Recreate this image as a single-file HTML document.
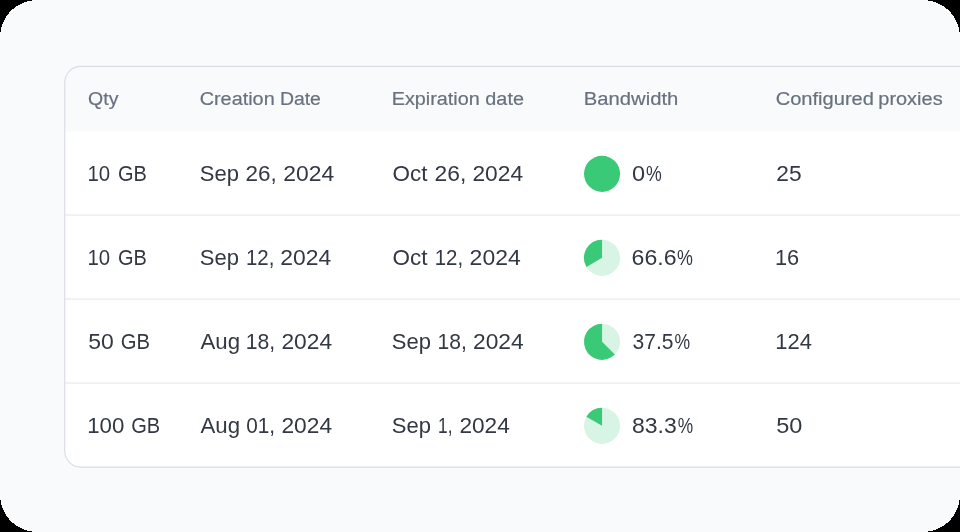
<!DOCTYPE html>
<html><head><meta charset="utf-8"><title>Table</title>
<style>
html,body{margin:0;padding:0;background:#000;}
body{width:960px;height:532px;position:relative;overflow:hidden;font-family:"Liberation Sans",sans-serif;}
svg.bg{position:absolute;left:0;top:0;display:block;}
.tx{position:absolute;left:0;top:0;width:960px;height:532px;will-change:transform;}
.t{position:absolute;left:0;top:0;white-space:nowrap;transform-origin:0 0;display:block;}
.h{font-size:17.6px;line-height:17.6px;color:#68727f;-webkit-text-stroke:0.2px #68727f;}
.b{font-size:21.6px;line-height:21.6px;color:#323944;-webkit-text-stroke:0.0px #323944;}
</style></head><body>
<svg class="bg" width="960" height="532" viewBox="0 0 960 532">
<defs><clipPath id="cc"><rect x="64.75" y="66.4" width="1000" height="400.68" rx="16" ry="16"/></clipPath></defs>
<rect x="0" y="0" width="960" height="532" rx="37" ry="37" fill="#f9fafb" shape-rendering="crispEdges"/>
<g clip-path="url(#cc)">
<rect x="64.75" y="66.4" width="1000" height="400.68" fill="#ffffff"/>
<rect x="64.75" y="66.4" width="1000" height="65.16" fill="#f9fafb"/>
<rect x="64.75" y="214.56" width="900" height="1" fill="#e1e4e8"/><rect x="64.75" y="298.56" width="900" height="1" fill="#e1e4e8"/><rect x="64.75" y="382.56" width="900" height="1" fill="#e1e4e8"/>
</g>
<rect x="64.75" y="66.4" width="1000" height="400.68" rx="16" ry="16" fill="none" stroke="#d9dde3" stroke-width="1.15"/>
<circle cx="602.05" cy="173.85" r="18.05" fill="#3ac977"/><circle cx="602.05" cy="257.85" r="18.05" fill="#d8f4e4"/><path d="M602.05 257.85 L586.418 266.875 A18.05 18.05 0 0 1 602.050 239.800 Z" fill="#3ac977"/><circle cx="602.05" cy="341.85" r="18.05" fill="#d8f4e4"/><path d="M602.05 341.85 L614.813 354.613 A18.05 18.05 0 1 1 602.050 323.800 Z" fill="#3ac977"/><circle cx="602.05" cy="425.85" r="18.05" fill="#d8f4e4"/><path d="M602.05 425.85 L586.418 416.825 A18.05 18.05 0 0 1 602.050 407.800 Z" fill="#3ac977"/>
</svg>
<div class="tx"><span class="t h" style="transform:translate(88.06px,91.00px) scaleX(1.1073)">Qty</span>
<span class="t h" style="transform:translate(199.67px,91.00px) scaleX(1.1279)">Creation</span>
<span class="t h" style="transform:translate(279.89px,91.00px) scaleX(1.1033)">Date</span>
<span class="t h" style="transform:translate(391.75px,91.00px) scaleX(1.1254)">Expiration</span>
<span class="t h" style="transform:translate(485.33px,91.00px) scaleX(1.1268)">date</span>
<span class="t h" style="transform:translate(583.81px,91.00px) scaleX(1.1500)">Bandwidth</span>
<span class="t h" style="transform:translate(775.64px,91.00px) scaleX(1.1420)">Configured</span>
<span class="t h" style="transform:translate(878.28px,91.00px) scaleX(1.1342)">proxies</span>
<span class="t b" style="transform:translate(87.52px,163.00px) scaleX(0.9445)">10</span>
<span class="t b" style="transform:translate(118.02px,163.00px) scaleX(0.9252)">GB</span>
<span class="t b" style="transform:translate(199.87px,163.00px) scaleX(1.0181)">Sep</span>
<span class="t b" style="transform:translate(245.61px,163.00px) scaleX(1.0392)">26,</span>
<span class="t b" style="transform:translate(283.33px,163.00px) scaleX(1.0599)">2024</span>
<span class="t b" style="transform:translate(392.47px,163.00px) scaleX(1.0405)">Oct</span>
<span class="t b" style="transform:translate(434.52px,163.00px) scaleX(1.0557)">26,</span>
<span class="t b" style="transform:translate(472.41px,163.00px) scaleX(1.0551)">2024</span>
<span class="t b" style="transform:translate(632.11px,163.00px) scaleX(1.0907)">0</span>
<span class="t b" style="transform:translate(646.10px,163.00px) scaleX(0.8207)">%</span>
<span class="t b" style="transform:translate(776.29px,163.00px) scaleX(1.0549)">25</span>
<span class="t b" style="transform:translate(87.52px,247.00px) scaleX(0.9445)">10</span>
<span class="t b" style="transform:translate(118.02px,247.00px) scaleX(0.9252)">GB</span>
<span class="t b" style="transform:translate(199.87px,247.00px) scaleX(1.0181)">Sep</span>
<span class="t b" style="transform:translate(245.99px,247.00px) scaleX(0.9475)">12,</span>
<span class="t b" style="transform:translate(280.33px,247.00px) scaleX(1.0599)">2024</span>
<span class="t b" style="transform:translate(392.47px,247.00px) scaleX(1.0405)">Oct</span>
<span class="t b" style="transform:translate(434.72px,247.00px) scaleX(0.9461)">12,</span>
<span class="t b" style="transform:translate(469.62px,247.00px) scaleX(1.0621)">2024</span>
<span class="t b" style="transform:translate(631.57px,247.00px) scaleX(1.0681)">66.6</span>
<span class="t b" style="transform:translate(676.93px,247.00px) scaleX(0.8284)">%</span>
<span class="t b" style="transform:translate(774.91px,247.00px) scaleX(1.0081)">16</span>
<span class="t b" style="transform:translate(88.19px,331.00px) scaleX(1.0628)">50</span>
<span class="t b" style="transform:translate(120.79px,331.00px) scaleX(0.9355)">GB</span>
<span class="t b" style="transform:translate(200.49px,331.00px) scaleX(1.0288)">Aug</span>
<span class="t b" style="transform:translate(245.76px,331.00px) scaleX(0.9796)">18,</span>
<span class="t b" style="transform:translate(281.41px,331.00px) scaleX(1.0551)">2024</span>
<span class="t b" style="transform:translate(391.87px,331.00px) scaleX(1.0181)">Sep</span>
<span class="t b" style="transform:translate(437.46px,331.00px) scaleX(0.9772)">18,</span>
<span class="t b" style="transform:translate(473.01px,331.00px) scaleX(1.0550)">2024</span>
<span class="t b" style="transform:translate(632.53px,331.00px) scaleX(0.9748)">37.5</span>
<span class="t b" style="transform:translate(674.51px,331.00px) scaleX(0.8112)">%</span>
<span class="t b" style="transform:translate(775.29px,331.00px) scaleX(1.0175)">124</span>
<span class="t b" style="transform:translate(87.22px,415.00px) scaleX(1.0295)">100</span>
<span class="t b" style="transform:translate(131.23px,415.00px) scaleX(0.9278)">GB</span>
<span class="t b" style="transform:translate(200.49px,415.00px) scaleX(1.0288)">Aug</span>
<span class="t b" style="transform:translate(246.13px,415.00px) scaleX(0.9622)">01,</span>
<span class="t b" style="transform:translate(281.41px,415.00px) scaleX(1.0551)">2024</span>
<span class="t b" style="transform:translate(391.87px,415.00px) scaleX(1.0181)">Sep</span>
<span class="t b" style="transform:translate(438.08px,415.00px) scaleX(0.8010)">1,</span>
<span class="t b" style="transform:translate(459.43px,415.00px) scaleX(1.0489)">2024</span>
<span class="t b" style="transform:translate(632.02px,415.00px) scaleX(1.0644)">83.3</span>
<span class="t b" style="transform:translate(677.87px,415.00px) scaleX(0.8023)">%</span>
<span class="t b" style="transform:translate(776.28px,415.00px) scaleX(1.0892)">50</span></div>
</body></html>
